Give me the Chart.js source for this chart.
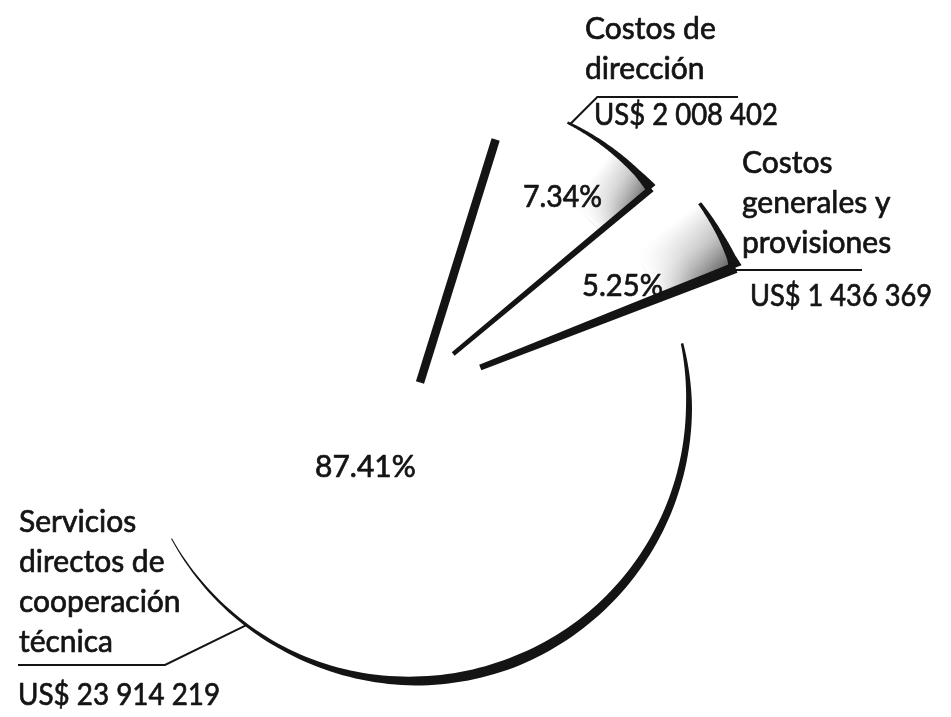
<!DOCTYPE html>
<html><head><meta charset="utf-8">
<script src="https://cdn.jsdelivr.net/npm/chart.js@4/dist/chart.umd.min.js"></script>
<style>
html,body{margin:0;padding:0;background:#fff;}
#wrap{position:relative;width:951px;height:717px;overflow:hidden;}
canvas{position:absolute;left:0;top:0;}
</style>
</head><body>
<div id="wrap"><canvas id="c1" width="951" height="717"></canvas><canvas id="c2" width="951" height="717"></canvas></div>
<script>
// ---- data ----
const categories = ['Costos de dirección', 'Costos generales y provisiones', 'Servicios directos de cooperación técnica'];
const amounts = [2008402, 1436369, 23914219];
const percentLabels = ['7.34%', '5.25%', '87.41%'];
const amountLabels = ['US$ 2 008 402', 'US$ 1 436 369', 'US$ 23 914 219'];
const nameLines = [['Costos de', 'dirección'], ['Costos', 'generales y', 'provisiones'], ['Servicios', 'directos de', 'cooperación', 'técnica']];

// ---- style ----
const FONT = '30px Lato, "Open Sans", sans-serif';
const INK = '#141414';
const PAD = {left: 0, right: 125, top: 93, bottom: 0};
const AMOUNT_WIDTH = [184, 182, 202];

function geom(arc) {
  const p = arc.getProps(['x', 'y', 'startAngle', 'endAngle', 'outerRadius'], true);
  const off = (arc.options.offset || 0) / 4;
  const s = p.startAngle, e = p.endAngle, circ = e - s, mid = (s + e) / 2;
  const cx = p.x + Math.cos(mid) * off, cy = p.y + Math.sin(mid) * off;
  const fix = 1 - Math.sin(Math.min(Math.PI, circ));
  const ro = off * fix;
  const R = p.outerRadius + ro;
  const beta = Math.max(0.001, circ * R - ro / Math.PI) / R;
  const ao = (circ - beta) / 2;
  return {cx, cy, R, a0: s + ao, a1: e - ao};
}
function ang(g, f) { return g.a0 + (g.a1 - g.a0) * f; }
function pt(g, a, r) { return [g.cx + Math.cos(a) * r, g.cy + Math.sin(a) * r]; }
function prof(p, t) {
  for (let i = 1; i < p.length; i++) {
    if (t <= p[i][0]) { const [t0, w0] = p[i - 1], [t1, w1] = p[i]; return w0 + (w1 - w0) * (t - t0) / (t1 - t0); }
  }
  return p[p.length - 1][1];
}
function taperArc(ctx, g, f0, f1, p) {
  const N = 120, out = [], inn = [];
  for (let i = 0; i <= N; i++) {
    const t = i / N, a = ang(g, f0 + (f1 - f0) * t), w = prof(p, t);
    out.push(pt(g, a, g.R + w / 2)); inn.push(pt(g, a, g.R - w / 2));
  }
  ctx.beginPath();
  out.forEach((q, i) => i ? ctx.lineTo(q[0], q[1]) : ctx.moveTo(q[0], q[1]));
  for (let i = inn.length - 1; i >= 0; i--) ctx.lineTo(inn[i][0], inn[i][1]);
  ctx.closePath(); ctx.fillStyle = INK; ctx.fill();
}
function taperLine(ctx, g, a, r0, r1, w0, w1) {
  const nx = -Math.sin(a), ny = Math.cos(a);
  const p0 = pt(g, a, r0), p1 = pt(g, a, r1);
  ctx.beginPath();
  ctx.moveTo(p0[0] + nx * w0 / 2, p0[1] + ny * w0 / 2);
  ctx.lineTo(p1[0] + nx * w1 / 2, p1[1] + ny * w1 / 2);
  ctx.lineTo(p1[0] - nx * w1 / 2, p1[1] - ny * w1 / 2);
  ctx.lineTo(p0[0] - nx * w0 / 2, p0[1] - ny * w0 / 2);
  ctx.closePath(); ctx.fillStyle = INK; ctx.fill();
}
function shade(ctx, g, fStart, rin, alpha) {
  const as = ang(g, fStart);
  ctx.save();
  ctx.beginPath(); ctx.moveTo(g.cx, g.cy); ctx.arc(g.cx, g.cy, g.R, g.a0, g.a1); ctx.closePath(); ctx.clip();
  const span = (g.a1 - as) / (2 * Math.PI);
  const cg = ctx.createConicGradient(as, g.cx, g.cy);
  cg.addColorStop(0, 'rgba(110,110,110,0)');
  cg.addColorStop(span * 0.5, 'rgba(110,110,110,' + (alpha * 0.5) + ')');
  cg.addColorStop(span, 'rgba(45,45,45,' + alpha + ')');
  cg.addColorStop(Math.min(1, span + 0.002), 'rgba(110,110,110,0)');
  const path = () => { ctx.beginPath(); ctx.arc(g.cx, g.cy, g.R + 2, as, g.a1); ctx.arc(g.cx, g.cy, g.R * rin, g.a1, as, true); ctx.closePath(); };
  path(); ctx.fillStyle = cg; ctx.fill();
  const rg = ctx.createRadialGradient(g.cx, g.cy, g.R * rin, g.cx, g.cy, g.R);
  rg.addColorStop(0, 'rgba(255,255,255,1)');
  rg.addColorStop(0.5, 'rgba(255,255,255,0.4)');
  rg.addColorStop(1, 'rgba(255,255,255,0)');
  path(); ctx.fillStyle = rg; ctx.fill();
  ctx.restore();
}
function text(ctx, s, x, y, maxW) {
  if (maxW) { ctx.fillText(s, x, y, maxW); ctx.strokeText(s, x, y, maxW); }
  else { ctx.fillText(s, x, y); ctx.strokeText(s, x, y); }
}
function textStyle(ctx) {
  ctx.fillStyle = INK; ctx.strokeStyle = INK; ctx.lineWidth = 0.7; ctx.lineJoin = 'round';
  ctx.font = FONT; ctx.textBaseline = 'alphabetic'; ctx.textAlign = 'left';
}

// ---- chart 1: the large slice ----
const bigPlugin = {
  id: 'bigSlice',
  afterDatasetsDraw(chart) {
    const ctx = chart.ctx, arc = chart.getDatasetMeta(0).data[2], g = geom(arc);
    ctx.save();
    taperLine(ctx, g, g.a1, g.R * 0.085, g.R + 2, 8.5, 8.5);
    taperArc(ctx, g, 0.046, 0.567, [[0, 2.5], [0.08, 6], [0.25, 8], [0.5, 10.5], [0.62, 9], [0.8, 4], [1, 1]]);
    const a = pt(g, ang(g, 0.491), g.R);
    ctx.strokeStyle = INK; ctx.lineWidth = 2;
    ctx.beginPath(); ctx.moveTo(a[0], a[1]); ctx.lineTo(165, 665); ctx.lineTo(18, 665); ctx.stroke();
    textStyle(ctx);
    text(ctx, percentLabels[2], 315, 477, 107);
    nameLines[2].forEach((s, i) => text(ctx, s, 19, 532 + i * 40));
    text(ctx, amountLabels[2], 18, 705, AMOUNT_WIDTH[2]);
    ctx.restore();
  }
};
new Chart(document.getElementById('c1'), {
  type: 'pie',
  data: {labels: categories, datasets: [{data: amounts, backgroundColor: ['rgba(0,0,0,0)', 'rgba(0,0,0,0)', '#ffffff'], borderWidth: 0, offset: 0, radius: 276}]},
  options: {responsive: false, animation: false, events: [], rotation: 17.3, radius: 276, layout: {padding: PAD},
    plugins: {legend: {display: false}, tooltip: {enabled: false}}},
  plugins: [bigPlugin]
});

// ---- chart 2: the two exploded slices ----
const smallPlugin = {
  id: 'smallSlices',
  afterDatasetsDraw(chart) {
    const ctx = chart.ctx, arcs = chart.getDatasetMeta(0).data;
    const g0 = geom(arcs[0]), g1 = geom(arcs[1]);
    ctx.save();
    shade(ctx, g0, 0.5, 0.74, 0.75);
    shade(ctx, g1, 0.0, 0.7, 0.85);
    taperArc(ctx, g0, 0, 1, [[0, 2.5], [0.4, 4.5], [0.8, 7], [1, 11]]);
    taperLine(ctx, g0, g0.a1, 0, g0.R, 4.5, 7);
    taperArc(ctx, g1, 0, 1, [[0, 3.5], [0.5, 6], [0.85, 9], [1, 13]]);
    taperLine(ctx, g1, g1.a1, 0, g1.R, 6, 11);
    ctx.strokeStyle = INK; ctx.lineWidth = 2;
    const a = pt(g0, ang(g0, 0.03), g0.R);
    ctx.beginPath(); ctx.moveTo(a[0], a[1]); ctx.lineTo(a[0] + (a[1] - 97), 97); ctx.lineTo(738, 97); ctx.stroke();
    const b = pt(g1, g1.a1, g1.R);
    ctx.beginPath(); ctx.moveTo(b[0], 270); ctx.lineTo(862, 270); ctx.stroke();
    textStyle(ctx);
    text(ctx, percentLabels[0], 523, 207, 79);
    text(ctx, percentLabels[1], 582, 296, 81);
    nameLines[0].forEach((s, i) => text(ctx, s, 585, 39 + i * 40));
    text(ctx, amountLabels[0], 594, 125, AMOUNT_WIDTH[0]);
    nameLines[1].forEach((s, i) => text(ctx, s, 742, 173 + i * 40));
    text(ctx, amountLabels[1], 750, 306, AMOUNT_WIDTH[1]);
    ctx.restore();
  }
};
new Chart(document.getElementById('c2'), {
  type: 'pie',
  data: {labels: categories, datasets: [{data: amounts, backgroundColor: ['#ffffff', '#ffffff', 'rgba(0,0,0,0)'], borderWidth: 0, offset: [260, 308, 0], radius: 222}]},
  options: {responsive: false, animation: false, events: [], rotation: 25, radius: 222, layout: {padding: PAD},
    plugins: {legend: {display: false}, tooltip: {enabled: false}}},
  plugins: [smallPlugin]
});
</script>
</body></html>
